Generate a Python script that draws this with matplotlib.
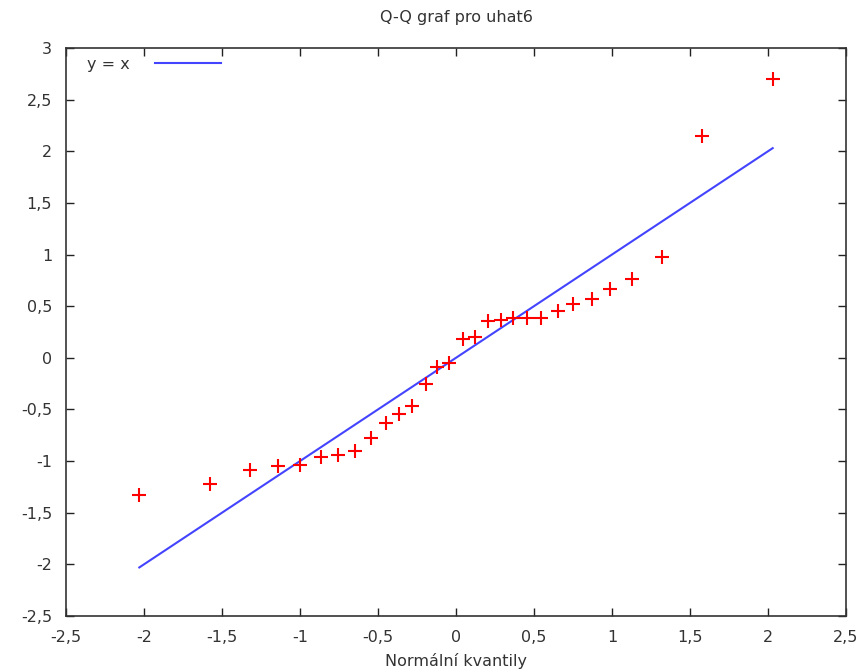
import matplotlib
matplotlib.use("Agg")
import matplotlib.pyplot as plt
from matplotlib.ticker import FuncFormatter

# normal quantiles (x) and sorted residuals (y)
kvantily = [-2.03, -1.58, -1.32, -1.14, -1.0, -0.865, -0.756, -0.647, -0.545, -0.449,
            -0.365, -0.282, -0.19, -0.122, -0.045, 0.045, 0.122, 0.205, 0.288, 0.365,
            0.455, 0.545, 0.654, 0.75, 0.87, 0.99, 1.13, 1.32, 1.58, 2.03]
uhat6 = [-1.33, -1.22, -1.09, -1.05, -1.04, -0.96, -0.94, -0.90, -0.78, -0.63,
         -0.54, -0.47, -0.25, -0.09, -0.05, 0.18, 0.20, 0.36, 0.37, 0.39,
         0.39, 0.39, 0.45, 0.52, 0.57, 0.67, 0.76, 0.98, 2.15, 2.70]
line_x = [-2.03, 2.03]

xticks = [-2.5, -2, -1.5, -1, -0.5, 0, 0.5, 1, 1.5, 2, 2.5]
yticks = [-2.5, -2, -1.5, -1, -0.5, 0, 0.5, 1, 1.5, 2, 2.5, 3]

plt.rcParams['font.family'] = ['DejaVu Sans']
txt = '#333333'
fs = 11.5

fig = plt.figure(figsize=(8.67, 6.71), dpi=100)
ax = fig.add_axes([0.0761, 0.082, 0.8997, 0.8465])

ax.plot(line_x, line_x, color='#4444ff', lw=1.5, label='y = x')
ax.plot(kvantily, uhat6, ls='none', marker='+', ms=10, mew=1.5, color='red')

ax.set_xlim(-2.5, 2.5)
ax.set_ylim(-2.5, 3)
ax.set_xticks(xticks)
ax.set_yticks(yticks)
fmt = FuncFormatter(lambda v, p: ('%g' % v).replace('.', ','))
ax.xaxis.set_major_formatter(fmt)
ax.yaxis.set_major_formatter(fmt)
ax.tick_params(direction='in', length=6, width=1, top=True, right=True,
               labelsize=fs, labelcolor=txt, color='#222222', pad=10)
for s in ax.spines.values():
    s.set_color('#333333')
    s.set_linewidth(1.2)

ax.set_title('Q-Q graf pro uhat6', fontsize=fs, color=txt, pad=19)
ax.set_xlabel('Normální kvantily', fontsize=fs, color=txt, labelpad=6)

leg = ax.legend(loc='upper left', bbox_to_anchor=(0.0103, 1.007), frameon=False,
                fontsize=fs, markerfirst=False, handlelength=4.1, handletextpad=1.6,
                borderaxespad=0.6, borderpad=0.2, labelcolor=txt)

fig.savefig('out.png', dpi=100)
